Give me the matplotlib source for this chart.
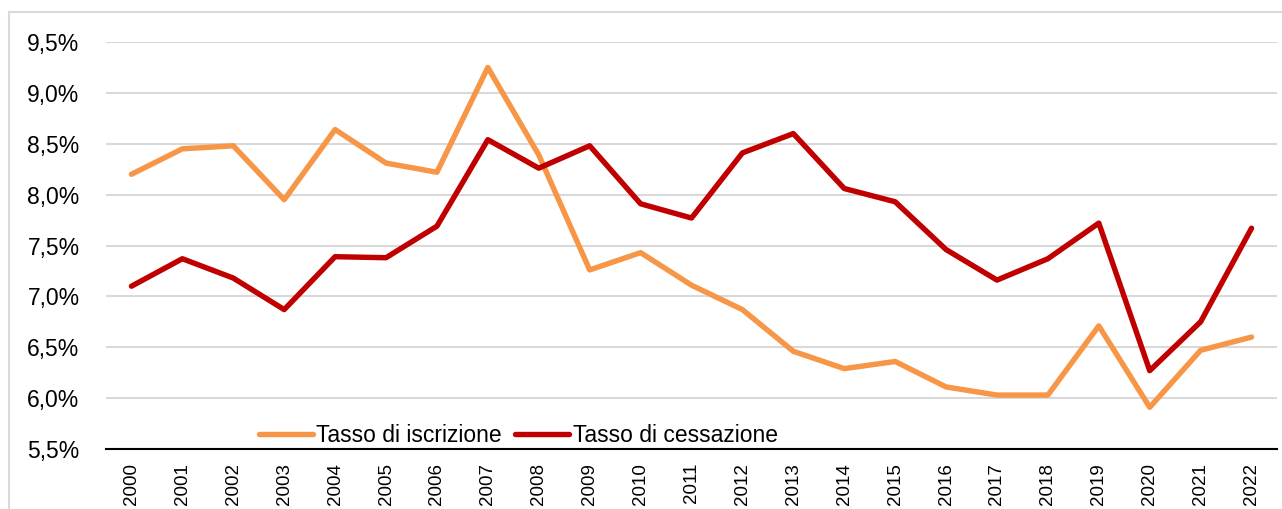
import matplotlib
matplotlib.use("Agg")
import matplotlib.pyplot as plt
from matplotlib.patches import Rectangle
from matplotlib.ticker import FuncFormatter

years = [str(y) for y in range(2000, 2023)]
iscrizione = [8.20, 8.45, 8.48, 7.95, 8.64, 8.31, 8.22, 9.25, 8.39, 7.26, 7.43, 7.11,
              6.87, 6.46, 6.29, 6.36, 6.11, 6.03, 6.03, 6.71, 5.91, 6.47, 6.60]
cessazione = [7.10, 7.37, 7.18, 6.87, 7.39, 7.38, 7.69, 8.54, 8.26, 8.48, 7.91, 7.77,
              8.41, 8.60, 8.06, 7.93, 7.46, 7.16, 7.37, 7.72, 6.27, 6.75, 7.67]

plt.rcParams['font.family'] = ['Liberation Sans', 'DejaVu Sans']

fig = plt.figure(figsize=(12.82, 5.09), dpi=100)
ax = fig.add_axes([106 / 1282, 1 - 449 / 509, (1277 - 106) / 1282, (449 - 42) / 509])

# outer frame of the chart
fig.patches.append(Rectangle((9 / 1282, -0.2), 1.2, 1.2 - 12 / 509,
                             transform=fig.transFigure, fill=False,
                             edgecolor='#D9D9D9', linewidth=1.5))

x = range(len(years))
ax.plot(x, iscrizione, color='#F79646', linewidth=3.9, solid_capstyle='round',
        solid_joinstyle='round', label='Tasso di iscrizione')
ax.plot(x, cessazione, color='#C00000', linewidth=3.9, solid_capstyle='round',
        solid_joinstyle='round', label='Tasso di cessazione')

ax.set_xlim(-0.5, len(years) - 0.5)
ax.set_ylim(5.5, 9.5)
ax.set_yticks([5.5 + 0.5 * i for i in range(9)])
ax.yaxis.set_major_formatter(FuncFormatter(lambda v, p: f"{v:.1f}%".replace('.', ',')))
ax.set_xticks(list(x))
ax.set_xticklabels(years, rotation=90)

ax.grid(axis='y', color='#D9D9D9', linewidth=1.5)
ax.set_axisbelow(True)
for side in ['left', 'right', 'top']:
    ax.spines[side].set_visible(False)
ax.spines['bottom'].set_color('black')
ax.spines['bottom'].set_linewidth(1.5)
ax.spines['bottom'].set_zorder(5)

ax.tick_params(axis='y', length=0, labelsize=16.5, pad=19)
ax.tick_params(axis='x', length=0, labelsize=13.5, pad=10)

leg = ax.legend(loc='lower center', bbox_to_anchor=(0.352, -0.045), ncol=2, frameon=False,
                fontsize=16.5, handlelength=2.35, handletextpad=0.15, columnspacing=0.6)

fig.savefig('out.png', dpi=100)
